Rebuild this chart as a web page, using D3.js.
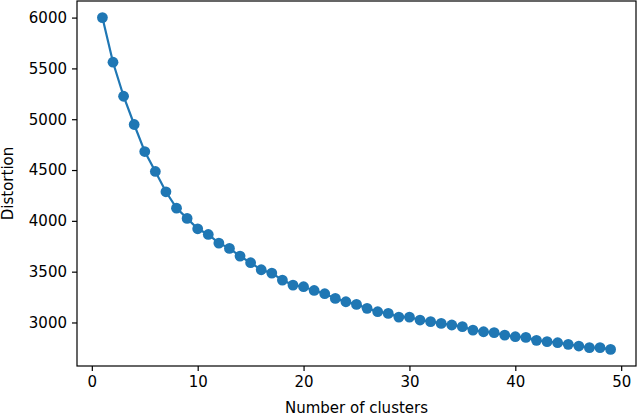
<!DOCTYPE html>
<html>
<head>
<meta charset="utf-8">
<script src="https://cdn.jsdelivr.net/npm/d3@7"></script>
<style>
  body { margin: 0; background: #fff; }
  svg { display: block; }
  text { font-family: "DejaVu Sans", sans-serif; fill: #000; }
</style>
</head>
<body>
<div id="chart"></div>
<script>
// elbow curve: number of clusters vs distortion
var clusters = d3.range(1, 50)
var distortion = [
  6000, 5561, 5226, 4948, 4682, 4486, 4286, 4125, 4024, 3922,
  3866, 3781, 3729, 3653, 3588, 3519, 3486, 3417, 3368, 3352,
  3315, 3283, 3237, 3204, 3178, 3139, 3106, 3089, 3053, 3053,
  3024, 3008, 2991, 2975, 2959, 2925, 2909, 2900, 2876, 2860,
  2853, 2824, 2811, 2801, 2785, 2768, 2752, 2752, 2735
]
var xTicks = [0, 10, 20, 30, 40, 50]
var yTicks = [3000, 3500, 4000, 4500, 5000, 5500, 6000]

var width = 640
var height = 416
// plot box (window.top is reserved, so no "top" here)
var plotLeft = 77, plotRight = 636, plotTop = 1, plotBottom = 366

var data = clusters.map(function (c, i) { return { k: c, v: distortion[i] } })

// matplotlib style 5% margins
var xPad = (d3.max(clusters) - d3.min(clusters)) * 0.05
var yPad = (d3.max(distortion) - d3.min(distortion)) * 0.05

var x = d3.scaleLinear()
    .domain([d3.min(clusters) - xPad, d3.max(clusters) + xPad])
    .range([plotLeft, plotRight])

var y = d3.scaleLinear()
    .domain([d3.min(distortion) - yPad, d3.max(distortion) + yPad])
    .range([plotBottom, plotTop])

var svg = d3.select("#chart")
    .append("svg")
    .attr("width", width)
    .attr("height", height)

var line = d3.line()
    .x(function (d) { return x(d.k) })
    .y(function (d) { return y(d.v) })

svg.append("path")
    .datum(data)
    .attr("d", line)
    .attr("fill", "none")
    .attr("stroke", "#1f77b4")
    .attr("stroke-width", 2.2)

svg.selectAll("circle")
    .data(data)
    .enter()
    .append("circle")
    .attr("cx", function (d) { return x(d.k) })
    .attr("cy", function (d) { return y(d.v) })
    .attr("r", 5.4)
    .attr("fill", "#1f77b4")

// axes
svg.append("g")
    .attr("transform", "translate(0," + plotBottom + ")")
    .call(d3.axisBottom(x).tickValues(xTicks).tickSize(5).tickPadding(5).tickSizeOuter(0))
svg.append("g")
    .attr("transform", "translate(" + plotLeft + ",0)")
    .call(d3.axisLeft(y).tickValues(yTicks).tickSize(5).tickPadding(5).tickSizeOuter(0).tickFormat(d3.format("d")))

svg.selectAll(".domain").remove()
svg.selectAll(".tick line").attr("stroke", "#000").attr("stroke-width", 1.2)
svg.selectAll(".tick text").style("font-size", "15px").attr("fill", "#000")

// frame
svg.append("rect")
    .attr("x", plotLeft)
    .attr("y", plotTop)
    .attr("width", plotRight - plotLeft)
    .attr("height", plotBottom - plotTop)
    .attr("fill", "none")
    .attr("stroke", "#000")
    .attr("stroke-width", 1.2)

svg.append("text")
    .attr("x", (plotLeft + plotRight) / 2)
    .attr("y", 413)
    .attr("text-anchor", "middle")
    .style("font-size", "15px")
    .text("Number of clusters")

svg.append("text")
    .attr("transform", "translate(13," + ((plotTop + plotBottom) / 2) + ") rotate(-90)")
    .attr("text-anchor", "middle")
    .style("font-size", "15px")
    .text("Distortion")
</script>
</body>
</html>
